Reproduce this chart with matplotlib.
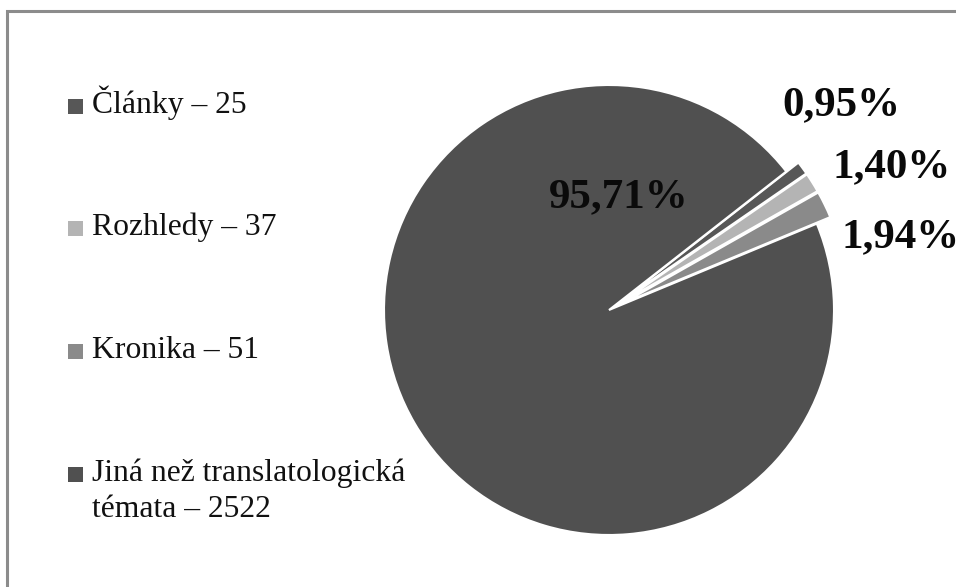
import matplotlib
matplotlib.use("Agg")
import matplotlib.pyplot as plt
from matplotlib.patches import Rectangle

# Data
categories = ["Články", "Rozhledy", "Kronika", "Jiná než translatologická\ntémata"]
counts = [25, 37, 51, 2522]
colors = ["#575757", "#b4b4b4", "#8a8a8a", "#505050"]
explode = [15, 15, 15, 0]

W, H = 956, 587
fig = plt.figure(figsize=(W / 100, H / 100), dpi=100)
ax = fig.add_axes([0, 0, 1, 1])

serif = ["Liberation Serif", "DejaVu Serif"]

# Pie drawn in pixel units (y measured from the bottom)
cx, cy, r = 609, H - 310, 225
wedges, _ = ax.pie(
    counts,
    colors=colors,
    explode=explode,
    startangle=38,
    counterclock=False,
    center=(cx, cy),
    radius=r,
    wedgeprops=dict(edgecolor="white", linewidth=1.5),
)
ax.set_xlim(0, W)
ax.set_ylim(0, H)
ax.set_aspect("equal")
ax.axis("off")

# Percentage labels
total = sum(counts)
pct_labels = [f"{c / total * 100:.2f}%".replace(".", ",") for c in counts]
label_pos = [(841, 115), (892, 177), (901, 247), (619, 207)]
for txt, (lx, ly) in zip(pct_labels, label_pos):
    ax.text(lx, H - ly, txt, ha="center", va="baseline", fontsize=31,
            fontweight="bold", family=serif, color="#0a0a0a")

# Legend on the left
row_base = [113, 235, 358, 481]
line_gap = 36
for name, cnt, col, yb in zip(categories, counts, colors, row_base):
    ax.add_patch(Rectangle((68, H - yb - 1), 15, 15, facecolor=col, edgecolor="none"))
    lines = name.split("\n")
    lines[-1] = f"{lines[-1]} – {cnt}"
    for i, line in enumerate(lines):
        ax.text(92, H - (yb + i * line_gap), line, ha="left", va="baseline",
                fontsize=22.8, family=serif, color="#111111")

# Chart frame
fig.patches.append(Rectangle((7 / W, -0.05), 1.1, (H - 11) / H + 0.05,
                             transform=fig.transFigure, facecolor="none",
                             edgecolor="#8c8c8c", linewidth=2.2))

fig.savefig("out.png", dpi=100, facecolor="white")
